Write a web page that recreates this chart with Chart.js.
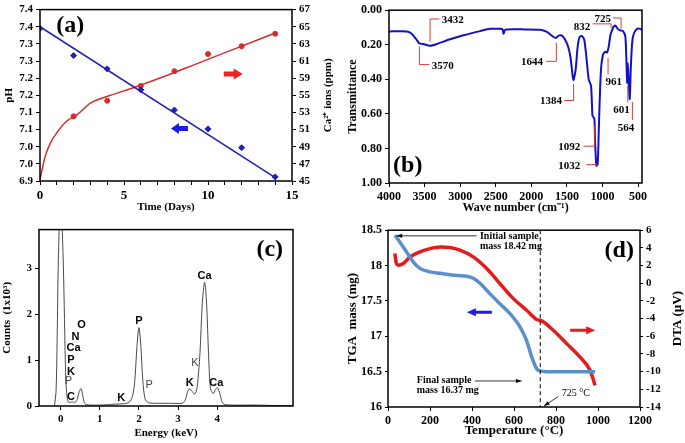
<!DOCTYPE html>
<html>
<head>
<meta charset="utf-8">
<script src="https://cdn.jsdelivr.net/npm/chart.js@4.4.1/dist/chart.umd.min.js"></script>
<style>
  html, body { margin: 0; padding: 0; background: #fff; }
  #wrap { position: relative; width: 685px; height: 443px; overflow: hidden; }
  canvas { position: absolute; }
</style>
</head>
<body>
<div id="wrap">
  <canvas id="chA" width="340" height="220" style="left:0;top:0"></canvas>
  <canvas id="chB" width="345" height="220" style="left:340px;top:0"></canvas>
  <canvas id="chC" width="340" height="223" style="left:0;top:220px"></canvas>
  <canvas id="chD" width="345" height="223" style="left:340px;top:220px"></canvas>
</div>
<script>
/* ===== (a) pH and Ca2+ release vs soaking time ===== */
const days = [0, 2, 4, 6, 8, 10, 12, 14];
const phValues = [7.345, 7.266, 7.227, 7.166, 7.107, 7.052, 6.997, 6.912];
const phFitDays = [0, 14];
const phFitValues = [7.350, 6.910];
const caDays = [2, 4, 6, 8, 10, 12, 14];
const caValues = [53.3, 55.3, 57.2, 59.1, 61.3, 62.3, 63.9];
const caFitDays = [0, 0.1, 0.3, 0.6, 1.0, 1.6, 2.2, 3, 4.2, 5.6, 7.5, 9.5, 11.4, 14];
const caFitValues = [45.2, 46.2, 48.1, 49.8, 51.2, 52.7, 53.5, 55.0, 56.0, 57.0, 58.5, 60.2, 61.8, 64.0];
const phTickValues = [6.9, 6.95, 7.0, 7.05, 7.1, 7.15, 7.2, 7.25, 7.3, 7.35, 7.4];
const phTickLabels = ['6.9', '7.0', '7.0', '7.1', '7.1', '7.2', '7.2', '7.3', '7.3', '7.4', '7.4'];
const caTickLabels = ['45', '47', '49', '51', '53', '55', '59', '61', '63', '65', '67'];

/* ===== (b) FTIR spectrum ===== */
const waveNumbers = [4000, 3751, 3681, 3601, 3573, 3517, 3423, 3329, 3141, 2954, 2719, 2578, 2438, 2405, 2391, 2372,
  2344, 2109, 1875, 1781, 1687, 1650, 1617, 1570, 1499, 1452, 1415, 1406, 1377, 1349, 1321, 1288, 1255, 1218,
  1194, 1161, 1142, 1133, 1114, 1105, 1086, 1068, 1054, 1040, 1021, 993, 960, 936, 913, 889, 866, 842, 819,
  786, 749, 711, 678, 654, 645, 631, 617, 603, 584, 561, 514, 467, 444];
const transmittance = [0.123, 0.123, 0.136, 0.177, 0.192, 0.196, 0.206, 0.196, 0.168, 0.145, 0.121, 0.108, 0.108, 0.110, 0.136, 0.115,
  0.111, 0.111, 0.113, 0.126, 0.155, 0.160, 0.147, 0.147, 0.192, 0.268, 0.395, 0.404, 0.343, 0.211, 0.155, 0.149, 0.174, 0.306,
  0.400, 0.438, 0.608, 0.617, 0.626, 0.758, 0.900, 0.890, 0.720, 0.530, 0.343, 0.258, 0.240, 0.245, 0.211, 0.145, 0.117, 0.094, 0.089,
  0.108, 0.117, 0.121, 0.155, 0.419, 0.306, 0.419, 0.513, 0.343, 0.192, 0.136, 0.108, 0.108, 0.117];
const wnTicks = [4000, 3500, 3000, 2500, 2000, 1500, 1000, 500];

/* ===== (c) EDS spectrum ===== */
const energy = [-0.16, -0.12, -0.09, -0.06, 0.0, 0.06, 0.09, 0.12, 0.15, 0.19, 0.25, 0.3, 0.36, 0.42, 0.47, 0.52, 0.56,
  0.6, 0.65, 0.8, 1.0, 1.2, 1.4, 1.6, 1.75, 1.83, 1.89, 1.95, 2.0, 2.05, 2.1, 2.16, 2.25, 2.5, 2.8, 3.1, 3.18, 3.24,
  3.3, 3.36, 3.43, 3.49, 3.56, 3.62, 3.68, 3.73, 3.78, 3.83, 3.9, 3.96, 4.01, 4.07, 4.13, 4.2, 4.5, 5.0, 5.5, 5.94];
const counts = [0, 0.3, 1.5, 3.2, 4.6, 3.3, 2.2, 0.9, 0.3, 0.09, 0.08, 0.09, 0.07, 0.14, 0.3, 0.38, 0.25,
  0.08, 0.03, 0.02, 0.02, 0.03, 0.04, 0.05, 0.08, 0.2, 0.5, 1.3, 1.71, 1.3, 0.55, 0.15, 0.07, 0.06, 0.06, 0.06, 0.12, 0.3,
  0.38, 0.32, 0.26, 0.42, 1.14, 2.23, 2.7, 2.25, 1.14, 0.38, 0.27, 0.36, 0.4, 0.27, 0.08, 0.03, 0.02, 0.02, 0.01, 0.01];
const edsTicks = [0, 1, 2, 3, 4];
const countTicks = [0, 1, 2, 3];
const edsLabels = [
  { t: 'O', x: 0.53, y: 1.77, bold: true }, { t: 'N', x: 0.38, y: 1.5, bold: true },
  { t: 'Ca', x: 0.33, y: 1.27, bold: true }, { t: 'P', x: 0.26, y: 1.01, bold: true },
  { t: 'K', x: 0.26, y: 0.74, bold: true }, { t: 'P', x: 0.2, y: 0.55, bold: false },
  { t: 'C', x: 0.26, y: 0.2, bold: true }, { t: 'K', x: 1.55, y: 0.18, bold: true },
  { t: 'P', x: 2.0, y: 1.85, bold: true }, { t: 'P', x: 2.26, y: 0.46, bold: false },
  { t: 'K', x: 3.3, y: 0.5, bold: true }, { t: 'K', x: 3.43, y: 0.94, bold: false },
  { t: 'Ca', x: 3.68, y: 2.83, bold: true }, { t: 'Ca', x: 3.98, y: 0.51, bold: true }
];

/* ===== (d) TGA / DTA ===== */
const tgaTemp = [33, 57, 89, 121, 152, 200, 248, 327, 375, 406, 438, 486, 533, 581, 629, 660, 684, 708, 724, 756, 883, 986];
const tgaMass = [18.43, 18.33, 18.19, 18.05, 17.96, 17.91, 17.89, 17.86, 17.85, 17.82, 17.75, 17.6, 17.46, 17.32, 17.13,
  16.94, 16.71, 16.54, 16.51, 16.5, 16.5, 16.5];
const dtaTemp = [33, 38, 49, 73, 105, 152, 200, 248, 295, 343, 406, 470, 533, 597, 660, 708, 732, 787, 851, 914, 962, 986];
const dtaValue = [3.36, 2.41, 2.04, 2.23, 2.98, 3.55, 3.92, 4.11, 4.04, 3.74, 2.98, 1.66, -0.04, -1.74, -3.06, -4.11,
  -4.26, -5.32, -6.83, -8.34, -9.85, -11.55];

/* ===== shared helpers ===== */
const serif = "'Liberation Serif', 'Times New Roman', serif";
const sans = "'Liberation Sans', Arial, sans-serif";
Chart.defaults.font.family = serif;
Chart.defaults.font.weight = 'bold';
Chart.defaults.color = '#000';
Chart.defaults.animation = false;
Chart.defaults.responsive = false;
Chart.defaults.plugins.legend.display = false;
Chart.defaults.plugins.tooltip.enabled = false;

const xy = (xs, ys) => xs.map((x, i) => ({ x, y: ys[i] }));
const fit = (size) => (s) => { if (s.isHorizontal()) s.height = size; else s.width = size; };
const tickGrid = { drawOnChartArea: false, color: '#000', tickLength: 4 };

// box around every plot area
Chart.register({
  id: 'frame',
  afterDatasetsDraw(chart) {
    const { ctx, chartArea: a } = chart;
    ctx.save();
    ctx.strokeStyle = '#000';
    ctx.lineWidth = 1.5;
    ctx.strokeRect(a.left, a.top, a.right - a.left, a.bottom - a.top);
    ctx.restore();
  }
});

function blockArrow(ctx, cx, cy, dir, color, len, shaft, headLen, headH) {
  const x0 = cx - dir * len / 2, x1 = cx + dir * len / 2, xh = x1 - dir * headLen;
  ctx.save();
  ctx.fillStyle = color;
  ctx.beginPath();
  ctx.moveTo(x0, cy - shaft / 2);
  ctx.lineTo(xh, cy - shaft / 2);
  ctx.lineTo(xh, cy - headH / 2);
  ctx.lineTo(x1, cy);
  ctx.lineTo(xh, cy + headH / 2);
  ctx.lineTo(xh, cy + shaft / 2);
  ctx.lineTo(x0, cy + shaft / 2);
  ctx.closePath();
  ctx.fill();
  ctx.restore();
}

function lineArrow(ctx, x0, y0, x1, y1) {
  const ang = Math.atan2(y1 - y0, x1 - x0), h = 6;
  ctx.save();
  ctx.strokeStyle = ctx.fillStyle = '#000';
  ctx.lineWidth = 0.8;
  ctx.beginPath(); ctx.moveTo(x0, y0); ctx.lineTo(x1, y1); ctx.stroke();
  ctx.beginPath();
  ctx.moveTo(x1, y1);
  ctx.lineTo(x1 - h * Math.cos(ang - 0.35), y1 - h * Math.sin(ang - 0.35));
  ctx.lineTo(x1 - h * Math.cos(ang + 0.35), y1 - h * Math.sin(ang + 0.35));
  ctx.closePath(); ctx.fill();
  ctx.restore();
}

function text(ctx, str, x, y, font, align = 'center', color = '#000') {
  ctx.save();
  ctx.font = font; ctx.fillStyle = color;
  ctx.textAlign = align; ctx.textBaseline = 'middle';
  ctx.fillText(str, x, y);
  ctx.restore();
}

// right-hand axis titles read bottom-to-top in the reference
function rightTitle(chart, str, dx, size) {
  const { ctx, chartArea: a } = chart;
  ctx.save();
  ctx.translate(a.right + dx, (a.top + a.bottom) / 2);
  ctx.rotate(-Math.PI / 2);
  text(ctx, str, 0, 0, `bold ${size}px ${serif}`);
  ctx.restore();
}

/* ===== chart (a) ===== */
new Chart(document.getElementById('chA'), {
  type: 'scatter',
  data: {
    datasets: [
      { data: xy(phFitDays, phFitValues), showLine: true, borderColor: '#2121b5', borderWidth: 1.5, pointRadius: 0, yAxisID: 'y' },
      { data: xy(days, phValues), pointStyle: 'rectRot', pointRadius: 3, backgroundColor: '#2121b5', borderColor: '#2121b5', yAxisID: 'y' },
      { data: xy(caFitDays, caFitValues), showLine: true, borderColor: '#d62c2c', borderWidth: 1.5, pointRadius: 0,
        cubicInterpolationMode: 'monotone', yAxisID: 'y2' },
      { data: xy(caDays, caValues), pointRadius: 2.5, backgroundColor: '#d62c2c', borderColor: '#d62c2c', yAxisID: 'y2' }
    ]
  },
  options: {
    layout: { padding: { top: 5 } },
    scales: {
      x: {
        type: 'linear', min: 0, max: 15, afterFit: fit(39), border: { display: false }, grid: tickGrid,
        ticks: { stepSize: 1, autoSkip: false, maxRotation: 0, font: { size: 13 }, callback: v => (v % 5 === 0 ? v : '') },
        title: { display: true, text: 'Time (Days)', font: { size: 11 }, padding: { top: 0, bottom: 6 } }
      },
      y: {
        min: 6.9, max: 7.4, afterFit: fit(40), border: { display: false }, grid: tickGrid,
        afterBuildTicks: s => { s.ticks = phTickValues.map(v => ({ value: v })); },
        ticks: { font: { size: 11 }, callback: (v, i) => phTickLabels[i] },
        title: { display: true, text: 'pH', font: { size: 11 }, padding: { top: 3 } }
      },
      y2: {
        position: 'right', min: 45, max: 67, afterFit: fit(48), border: { display: false }, grid: tickGrid,
        afterBuildTicks: s => { s.ticks = caTickLabels.map((t, i) => ({ value: 45 + i * 2.2 })); },
        ticks: { font: { size: 11 }, callback: (v, i) => caTickLabels[i] }
      }
    }
  },
  plugins: [{
    id: 'notesA',
    afterDatasetsDraw(chart) {
      const { ctx, scales: { x, y } } = chart;
      blockArrow(ctx, x.getPixelForValue(11.5), y.getPixelForValue(7.2125), 1, '#ee2222', 19, 5, 9, 11);
      blockArrow(ctx, x.getPixelForValue(8.3), y.getPixelForValue(7.053), -1, '#1a1ae6', 17, 5, 8, 11);
      text(ctx, '(a)', x.getPixelForValue(1.8), y.getPixelForValue(7.352), `bold 24px ${serif}`);
      rightTitle(chart, 'Ca²⁺ ions (ppm)', 36, 11);
    }
  }]
});

/* ===== chart (b) ===== */
const peakNotes = [
  { text: '3432', path: [[3423, 0.183], [3423, 0.051], [3292, 0.051]], at: [3259, 0.06], align: 'left' },
  { text: '3570', path: [[3573, 0.211], [3573, 0.315], [3432, 0.315]], at: [3399, 0.325], align: 'left' },
  { text: '1644', path: [[1649, 0.189], [1649, 0.296], [1790, 0.296]], at: [1837, 0.302], align: 'right' },
  { text: '1384', path: [[1406, 0.428], [1406, 0.523], [1537, 0.523]], at: [1570, 0.528], align: 'right' },
  { text: '1092', path: [[1110, 0.664], [1110, 0.787], [1265, 0.787]], at: [1312, 0.792], align: 'right' },
  { text: '1032', path: [[1077, 0.894], [1227, 0.894]], at: [1312, 0.904], align: 'right' },
  { text: '832', path: [[1138, 0.079], [880, 0.079], [880, 0.102]], at: [1171, 0.098], align: 'right' },
  { text: '725', path: [[852, 0.045], [739, 0.045], [739, 0.108]], at: [880, 0.051], align: 'right' },
  { text: '961', path: [[922, 0.277], [922, 0.372]], at: [843, 0.415], align: 'center' },
  { text: '601', path: [[645, 0.438], [645, 0.532]], at: [734, 0.579], align: 'center' },
  { text: '564', path: [[580, 0.532], [580, 0.636]], at: [669, 0.683], align: 'center' }
];

new Chart(document.getElementById('chB'), {
  type: 'scatter',
  data: {
    datasets: [{
      data: xy(waveNumbers, transmittance), showLine: true, borderColor: '#1212c4', borderWidth: 2,
      pointRadius: 0, tension: 0.25
    }]
  },
  options: {
    layout: { padding: { top: 5, right: 43 } },
    scales: {
      x: {
        type: 'linear', reverse: true, min: 445, max: 4000, afterFit: fit(37), border: { display: false }, grid: tickGrid,
        afterBuildTicks: s => { s.ticks = wnTicks.map(v => ({ value: v })); },
        ticks: { autoSkip: false, maxRotation: 0, font: { size: 12 }, callback: v => String(v) },
        title: { display: true, text: 'Wave number (cm⁻¹)', font: { size: 12 }, padding: { top: 0, bottom: 5 } }
      },
      y: {
        reverse: true, min: 0, max: 1, afterFit: fit(49), border: { display: false }, grid: tickGrid,
        ticks: { stepSize: 0.2, font: { size: 12 }, callback: v => v.toFixed(2) },
        title: { display: true, text: 'Transmittance', font: { size: 12 }, padding: { top: 6 } }
      }
    }
  },
  plugins: [{
    id: 'notesB',
    afterDatasetsDraw(chart) {
      const { ctx, scales: { x, y } } = chart;
      ctx.save();
      ctx.strokeStyle = '#c8413a';
      ctx.lineWidth = 1;
      peakNotes.forEach(n => {
        ctx.beginPath();
        n.path.forEach(([w, t], i) => {
          const px = x.getPixelForValue(w), py = y.getPixelForValue(t);
          if (i === 0) ctx.moveTo(px, py); else ctx.lineTo(px, py);
        });
        ctx.stroke();
        text(ctx, n.text, x.getPixelForValue(n.at[0]), y.getPixelForValue(n.at[1]), `bold 11px ${serif}`, n.align);
      });
      ctx.restore();
      text(ctx, '(b)', x.getPixelForValue(3737), y.getPixelForValue(0.9), `bold 24px ${serif}`);
    }
  }]
});

/* ===== chart (c) ===== */
new Chart(document.getElementById('chC'), {
  type: 'scatter',
  data: {
    datasets: [{
      data: xy(energy, counts), showLine: true, borderColor: '#4a4a4a', borderWidth: 1,
      pointRadius: 0, tension: 0.3
    }]
  },
  options: {
    layout: { padding: { top: 8, right: 47 } },
    scales: {
      x: {
        type: 'linear', min: -0.555, max: 5.94, afterFit: fit(37), border: { display: false }, grid: tickGrid,
        afterBuildTicks: s => { s.ticks = edsTicks.map(v => ({ value: v })); },
        ticks: { autoSkip: false, maxRotation: 0, font: { size: 11 }, callback: v => String(v) },
        title: { display: true, text: 'Energy (keV)', font: { size: 11 }, padding: { top: 0, bottom: 3 } }
      },
      y: {
        min: 0, max: 3.85, afterFit: fit(39), border: { display: false }, grid: tickGrid,
        afterBuildTicks: s => { s.ticks = countTicks.map(v => ({ value: v })); },
        ticks: { font: { size: 11 }, callback: v => String(v) },
        title: { display: true, text: 'Counts  (1x10³)', font: { size: 11 }, padding: { top: 1 } }
      }
    }
  },
  plugins: [{
    id: 'notesC',
    afterDatasetsDraw(chart) {
      const { ctx, scales: { x, y } } = chart;
      edsLabels.forEach(l => {
        const font = l.bold ? `bold 11px ${sans}` : `11px ${sans}`;
        text(ctx, l.t, x.getPixelForValue(l.x), y.getPixelForValue(l.y), font, 'center', l.bold ? '#000' : '#444');
      });
      text(ctx, '(c)', x.getPixelForValue(5.345), y.getPixelForValue(3.4), `bold 24px ${serif}`);
    }
  }]
});

/* ===== chart (d) ===== */
new Chart(document.getElementById('chD'), {
  type: 'scatter',
  data: {
    datasets: [
      { data: xy(tgaTemp, tgaMass), showLine: true, borderColor: '#5b8fc9', borderWidth: 3.5, pointRadius: 0,
        cubicInterpolationMode: 'monotone', yAxisID: 'y' },
      { data: xy(dtaTemp, dtaValue), showLine: true, borderColor: '#e31b1b', borderWidth: 3.5, pointRadius: 0,
        cubicInterpolationMode: 'monotone', yAxisID: 'y2' }
    ]
  },
  options: {
    layout: { padding: { top: 10 } },
    scales: {
      x: {
        type: 'linear', min: 0, max: 1200, afterFit: fit(36), border: { display: false }, grid: tickGrid,
        ticks: { stepSize: 200, autoSkip: false, maxRotation: 0, font: { size: 12 }, callback: v => String(v) },
        title: { display: true, text: 'Temperature (°C)', font: { size: 13 }, padding: { top: 0, bottom: 5 } }
      },
      y: {
        min: 16, max: 18.5, afterFit: fit(48), border: { display: false }, grid: { ...tickGrid, tickLength: 3 },
        ticks: { stepSize: 0.5, font: { size: 12 }, callback: v => String(v) },
        title: { display: true, text: 'TGA  mass (mg)', font: { size: 13 }, padding: { top: 5 } }
      },
      y2: {
        position: 'right', min: -14, max: 6, afterFit: fit(45), border: { display: false }, grid: { ...tickGrid, tickLength: 3 },
        ticks: { stepSize: 2, font: { size: 11 }, callback: v => String(v) }
      }
    }
  },
  plugins: [{
    id: 'notesD',
    afterDatasetsDraw(chart) {
      const { ctx, chartArea: a, scales: { x, y } } = chart;
      // 725 °C marker
      ctx.save();
      ctx.strokeStyle = '#000';
      ctx.lineWidth = 1;
      ctx.setLineDash([4, 3]);
      ctx.beginPath();
      ctx.moveTo(x.getPixelForValue(725), a.top);
      ctx.lineTo(x.getPixelForValue(725), a.bottom);
      ctx.stroke();
      ctx.restore();

      const f = `bold 10px ${serif}`;
      text(ctx, 'Initial sample', x.getPixelForValue(438), y.getPixelForValue(18.406), f, 'left');
      text(ctx, 'mass 18.42 mg', x.getPixelForValue(438), y.getPixelForValue(18.264), f, 'left');
      lineArrow(ctx, x.getPixelForValue(422), y.getPixelForValue(18.42), x.getPixelForValue(41), y.getPixelForValue(18.42));
      text(ctx, 'Final sample', x.getPixelForValue(137), y.getPixelForValue(16.377), f, 'left');
      text(ctx, 'mass 16.37 mg', x.getPixelForValue(137), y.getPixelForValue(16.236), f, 'left');
      lineArrow(ctx, x.getPixelForValue(414), y.getPixelForValue(16.368), x.getPixelForValue(636), y.getPixelForValue(16.368));
      text(ctx, '725 °C', x.getPixelForValue(827), y.getPixelForValue(16.19), `10px ${serif}`, 'left');
      lineArrow(ctx, x.getPixelForValue(811), y.getPixelForValue(16.15), x.getPixelForValue(743), y.getPixelForValue(16.014));

      blockArrow(ctx, x.getPixelForValue(435), y.getPixelForValue(17.34), -1, '#1f1fd6', 25, 3, 9, 8);
      blockArrow(ctx, x.getPixelForValue(927), y.getPixelForValue(17.085), 1, '#e31b1b', 25, 3, 9, 8);
      text(ctx, '(d)', x.getPixelForValue(1101), y.getPixelForValue(18.21), `bold 24px ${serif}`);
      rightTitle(chart, 'DTA (µV)', 38, 13);
    }
  }]
});
</script>
</body>
</html>
